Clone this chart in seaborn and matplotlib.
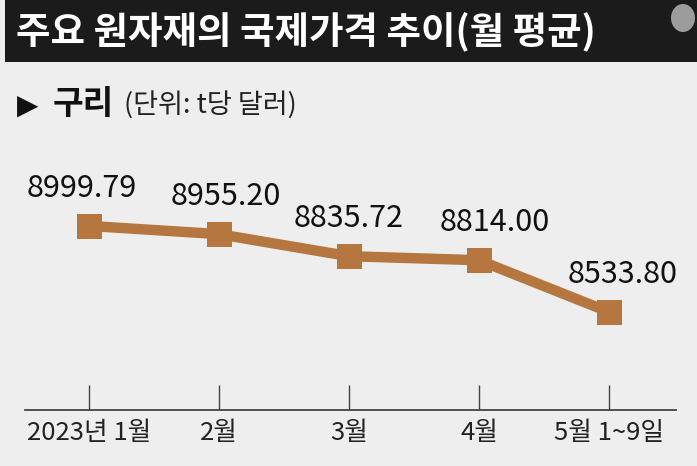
import pandas as pd
import seaborn as sns
import matplotlib.pyplot as plt
from matplotlib.patches import Rectangle, Ellipse

# -- data --
months = ["2023년 1월", "2월", "3월", "4월", "5월 1~9일"]
copper_price = [8999.79, 8955.20, 8835.72, 8814.00, 8533.80]
value_labels = ["8999.79", "8955.20", "8835.72", "8814.00", "8533.80"]

title = "주요 원자재의 국제가격 추이(월 평균)"
subtitle_item = "구리"
subtitle_unit = "(단위: t당 달러)"

# label nudges (points), styling only
label_dx = [-5, 5, 0, 11, 10]

df = pd.DataFrame({"idx": range(len(months)), "month": months, "price": copper_price})

sns.set_theme(style="white")
cjk = ["Noto Sans CJK KR", "DejaVu Sans"]
plt.rcParams["font.family"] = cjk

bg = "#eeeeee"
copper = "#b5773f"

fig = plt.figure(figsize=(6.97, 4.66), dpi=100)
fig.patch.set_facecolor(bg)

W, H = 697, 466
# title band
fig.patches.append(Rectangle((5 / W, 1 - 62 / H), 1, 62 / H, transform=fig.transFigure,
                             facecolor="#1b1b1b", edgecolor="none", zorder=0))
fig.text(16 / W, 1 - 32 / H, title, color="white", fontsize=27, fontweight="bold",
         va="center", ha="left", family=cjk)
fig.patches.append(Ellipse((683 / W, 1 - 18 / H), 24 / W, 28 / H, transform=fig.transFigure,
                           facecolor="#9c9c9c", edgecolor="none", zorder=1))

# subtitle
fig.text(17 / W, 1 - 106 / H, "▶", fontsize=20, color="#111111", va="center", ha="left",
         family=["DejaVu Sans"])
fig.text(53 / W, 1 - 104 / H, subtitle_item, fontsize=24, fontweight="bold", color="#111111",
         va="center", ha="left", family=cjk)
fig.text(124 / W, 1 - 106 / H, subtitle_unit, fontsize=19.5, color="#222222",
         va="center", ha="left", family=cjk)

# main axes: x spine from 25px to 676px, bottom spine at y=410px
ax = fig.add_axes([25 / W, (H - 410) / H, 651 / W, (410 - 140) / H])
ax.set_facecolor("none")
sns.lineplot(data=df, x="idx", y="price", ax=ax, color=copper, linewidth=7.5,
             marker="s", markersize=18, markeredgewidth=0, markerfacecolor=copper)

px_per_unit = 130.0
ax.set_xlim(-64 / px_per_unit, (676 - 89) / px_per_unit)
ax.set_ylim(8003, 9465)

for i, (v, lab) in enumerate(zip(copper_price, value_labels)):
    ax.annotate(lab, (i, v), xytext=(label_dx[i], 27), textcoords="offset points",
                ha="center", va="center", fontsize=22, color="#111111", family=cjk)

ax.set_xticks(range(len(months)))
ax.set_xticklabels(months, family=cjk, fontsize=18.5, color="#222222")
ax.set_yticks([])
ax.tick_params(axis="x", direction="in", length=18, width=1, color="#444444", pad=7,
               bottom=True)
ax.set_xlabel("")
ax.set_ylabel("")
for s in ["top", "left", "right"]:
    ax.spines[s].set_visible(False)
ax.spines["bottom"].set_color("#444444")
ax.spines["bottom"].set_linewidth(1.3)

fig.savefig("out.png", dpi=100, facecolor=bg)
